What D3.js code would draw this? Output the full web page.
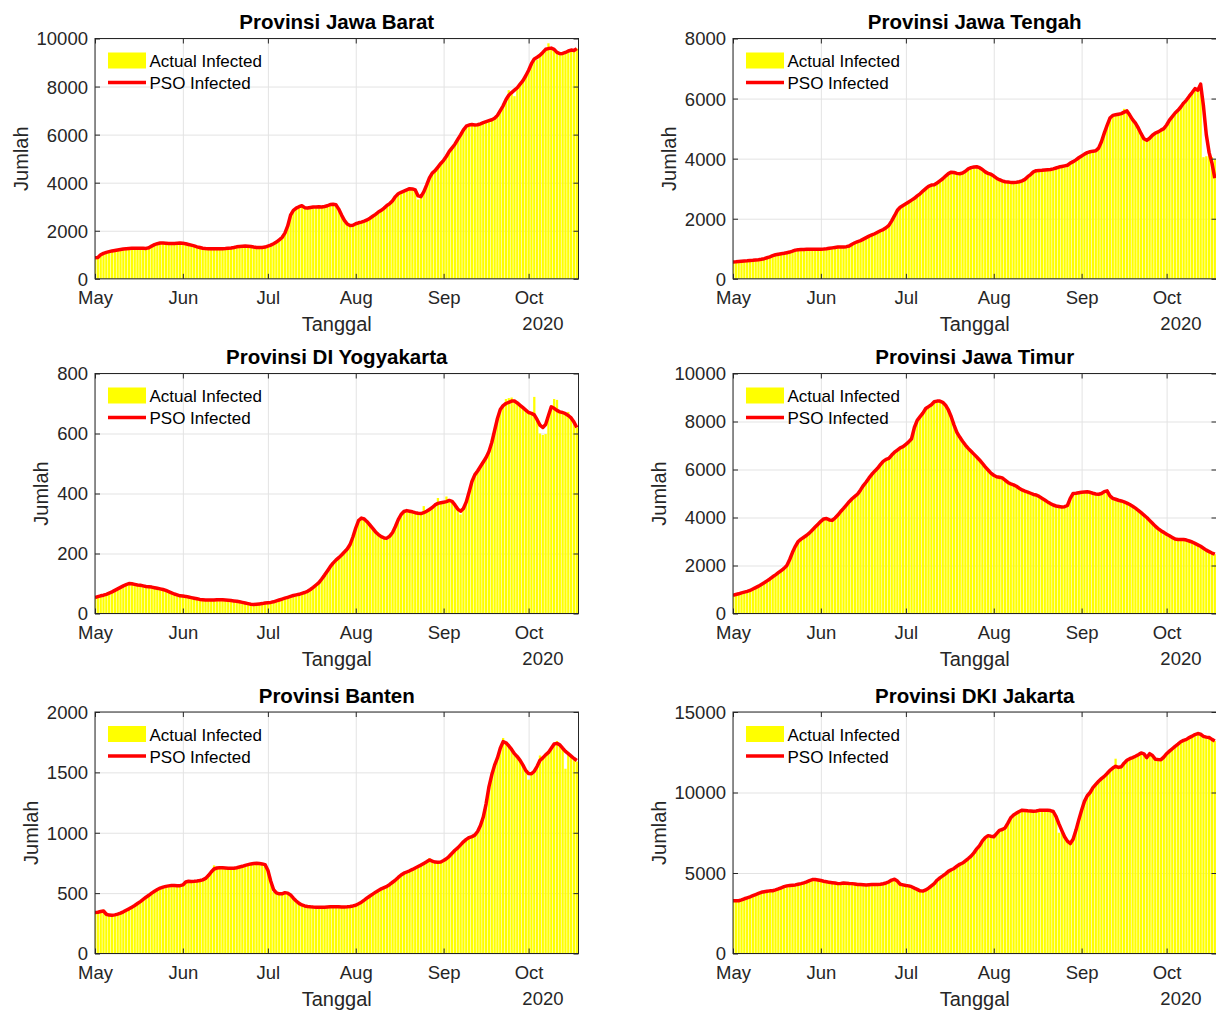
<!DOCTYPE html>
<html>
<head>
<meta charset="utf-8">
<script src="https://cdn.jsdelivr.net/npm/d3@7"></script>
<style>
  body { margin: 0; background: #fff; }
  svg text { font-family: "Liberation Sans", Arial, sans-serif; }
</style>
</head>
<body>
<script>
// data: daily values from 1 May 2020 (index 0) to 18 Oct 2020 (index 170)
const titles = ["Provinsi Jawa Barat", "Provinsi Jawa Tengah", "Provinsi DI Yogyakarta",
                "Provinsi Jawa Timur", "Provinsi Banten", "Provinsi DKI Jakarta"];
const monthLabels = ["May", "Jun", "Jul", "Aug", "Sep", "Oct"];
const yearLabel = "2020";
const seriesNames = ["Actual Infected", "PSO Infected"];
const yMaxes = [10000, 8000, 800, 10000, 2000, 15000];
const yTickSteps = [2000, 2000, 200, 2000, 500, 5000];

const psoJabar = [
  870, 890, 1000, 1060, 1100, 1130, 1160, 1180, 1200, 1220,
  1240, 1250, 1260, 1270, 1270, 1270, 1275, 1270, 1265, 1290,
  1360, 1420, 1460, 1490, 1490, 1480, 1470, 1465, 1470, 1480,
  1490, 1480, 1460, 1430, 1400, 1370, 1330, 1300, 1270, 1260,
  1255, 1250, 1250, 1250, 1250, 1255, 1260, 1270, 1280, 1300,
  1330, 1345, 1355, 1360, 1355, 1340, 1320, 1305, 1300, 1305,
  1320, 1360, 1400, 1460, 1530, 1620, 1720, 1900, 2200, 2650,
  2850, 2940, 3000, 3040, 2960, 2950, 2970, 2990, 2990, 3000,
  2990, 3010, 3040, 3090, 3100, 3080, 2900, 2650, 2430, 2280,
  2220, 2230, 2290, 2330, 2360, 2400, 2450, 2520, 2600, 2680,
  2780, 2850, 2940, 3050, 3130, 3250, 3420, 3540, 3600, 3650,
  3700, 3750, 3740, 3700, 3450, 3420, 3620, 3900, 4200, 4400,
  4500, 4650, 4800, 4930, 5100, 5300, 5450, 5600, 5800, 5990,
  6200, 6350, 6400, 6420, 6400, 6410, 6450, 6500, 6540, 6580,
  6620, 6680, 6800, 7000, 7200, 7450, 7640, 7750, 7850, 7950,
  8100, 8250, 8450, 8680, 8950, 9150, 9220, 9300, 9420, 9550,
  9580, 9600, 9550, 9420, 9370, 9380, 9420, 9480, 9520, 9500,
  9580];
const actualJabar = [
  880, 900, 1040, 1070, 1100, 1130, 1160, 1180, 1200, 1220,
  1240, 1250, 1260, 1270, 1270, 1270, 1275, 1270, 1265, 1290,
  1360, 1420, 1460, 1490, 1500, 1480, 1470, 1465, 1470, 1480,
  1490, 1480, 1460, 1430, 1400, 1370, 1330, 1300, 1270, 1260,
  1255, 1250, 1250, 1250, 1250, 1255, 1260, 1270, 1280, 1300,
  1330, 1345, 1355, 1370, 1355, 1340, 1320, 1305, 1300, 1305,
  1320, 1360, 1400, 1460, 1530, 1620, 1720, 1900, 2250, 2700,
  2850, 2940, 3000, 3040, 2960, 2950, 2970, 2990, 2990, 3000,
  2990, 3010, 3040, 3090, 3150, 3080, 2900, 2650, 2430, 2280,
  2220, 2230, 2290, 2330, 2360, 2400, 2450, 2520, 2600, 2680,
  2780, 2850, 2940, 3050, 3130, 3250, 3420, 3540, 3600, 3650,
  3700, 3750, 3740, 3700, 3300, 3400, 3620, 3900, 4200, 4400,
  4500, 4650, 4800, 4930, 5100, 5300, 5450, 5600, 5800, 5990,
  6200, 6350, 6400, 6420, 6400, 6410, 6450, 6500, 6540, 6580,
  6620, 6680, 6800, 7000, 7200, 7450, 7850, 7750, 7600, 7950,
  8100, 8250, 8450, 8680, 8950, 9150, 9120, 9300, 9420, 9550,
  9800, 9600, 9550, 9420, 9300, 9380, 9420, 9480, 9520, 9450,
  9580];

const psoJateng = [
  560, 565, 575, 585, 595, 600, 610, 615, 625, 635,
  650, 670, 700, 730, 770, 800, 820, 835, 850, 870,
  890, 920, 955, 970, 975, 975, 980, 980, 980, 980,
  980, 985, 990, 1000, 1015, 1030, 1045, 1060, 1060, 1060,
  1070, 1090, 1150, 1200, 1240, 1270, 1320, 1370, 1420, 1460,
  1500, 1550, 1600, 1640, 1700, 1780, 1930, 2100, 2280, 2380,
  2440, 2500, 2560, 2620, 2680, 2760, 2830, 2920, 3000, 3080,
  3120, 3130, 3190, 3260, 3330, 3420, 3500, 3550, 3540, 3510,
  3500, 3520, 3580, 3660, 3700, 3720, 3730, 3700, 3640, 3560,
  3510, 3480, 3420, 3350, 3300, 3260, 3230, 3220, 3210, 3210,
  3215, 3230, 3260, 3310, 3400, 3470, 3560, 3600, 3605, 3610,
  3620, 3630, 3640, 3660, 3690, 3720, 3740, 3760, 3780, 3850,
  3900, 3960, 4030, 4090, 4150, 4200, 4230, 4250, 4260, 4350,
  4560, 4850, 5110, 5350, 5440, 5460, 5480, 5500, 5550, 5590,
  5450, 5300, 5180, 5020, 4830, 4660, 4610, 4680, 4780, 4850,
  4890, 4950, 5000, 5120, 5280, 5400, 5520, 5610, 5720, 5850,
  5950, 6080, 6200, 6330, 6280, 6480, 5750, 4800, 4200, 3850,
  3350];
const actualJateng = [
  560, 565, 575, 585, 595, 600, 610, 615, 625, 635,
  650, 670, 700, 730, 770, 800, 820, 835, 850, 870,
  890, 920, 955, 970, 975, 975, 980, 980, 980, 980,
  980, 985, 990, 1000, 1015, 1030, 1045, 1060, 1060, 1060,
  1070, 1090, 1150, 1200, 1240, 1270, 1320, 1370, 1420, 1460,
  1500, 1550, 1600, 1640, 1700, 1780, 1930, 2100, 2280, 2380,
  2440, 2500, 2560, 2620, 2680, 2760, 2830, 2920, 3000, 3080,
  3120, 3130, 3190, 3260, 3330, 3420, 3500, 3550, 3540, 3510,
  3500, 3520, 3580, 3660, 3700, 3720, 3730, 3700, 3640, 3560,
  3510, 3480, 3420, 3350, 3300, 3260, 3230, 3220, 3210, 3210,
  3215, 3230, 3260, 3310, 3400, 3470, 3560, 3600, 3605, 3610,
  3620, 3630, 3640, 3660, 3690, 3720, 3740, 3760, 3780, 3850,
  3900, 3960, 4030, 4090, 4150, 4200, 4230, 4250, 4260, 4350,
  4560, 4850, 5110, 5350, 5440, 5460, 5480, 5500, 5660, 5590,
  5450, 5300, 5180, 5020, 4830, 4660, 4610, 4680, 4780, 4850,
  4890, 4950, 5000, 5120, 5280, 5400, 5520, 5610, 5720, 5850,
  5950, 6080, 6200, 6330, 6280, 6450, 4050, 4080, 4100, 4050,
  3980];

const psoJogja = [
  53, 56, 59, 61, 64, 68, 72, 77, 82, 87,
  92, 96, 100, 99, 97, 95, 94, 92, 90, 89,
  88, 86, 84, 82, 80, 77, 73, 69, 65, 62,
  59, 58, 57, 55, 53, 51, 49, 47, 46, 45,
  45, 45, 45, 46, 46, 46, 45, 44, 43, 42,
  41, 39, 37, 35, 33, 31, 30, 31, 32, 33,
  35, 36, 37, 39, 42, 45, 48, 51, 54, 57,
  60, 62, 64, 67, 70, 74, 80, 87, 95, 103,
  115, 128, 142, 156, 168, 178, 186, 195, 205, 215,
  230, 255, 285, 310, 318, 315, 306, 295, 284, 272,
  263, 256, 252, 251, 258, 270, 290, 313, 330, 340,
  343, 341, 339, 336, 334, 333, 336, 341, 347, 353,
  362, 367, 369, 371, 373, 377, 374, 362, 348, 341,
  350, 372, 405, 440, 462, 475, 490, 505, 520, 540,
  570, 610, 650, 680, 693, 700, 704, 708, 708, 702,
  694, 686, 678, 670, 667, 662, 646, 628, 620, 630,
  660, 689, 684, 677, 672, 670, 666, 660, 652, 638,
  620];
const actualJogja = [
  53, 56, 59, 61, 64, 68, 72, 77, 82, 87,
  92, 96, 100, 99, 97, 95, 94, 92, 90, 89,
  88, 86, 84, 82, 80, 77, 73, 69, 65, 62,
  59, 58, 57, 55, 53, 51, 49, 47, 46, 45,
  45, 45, 45, 46, 46, 46, 45, 44, 43, 42,
  41, 39, 37, 35, 33, 31, 30, 31, 32, 33,
  35, 36, 37, 39, 42, 45, 48, 51, 54, 57,
  60, 62, 64, 67, 70, 74, 80, 87, 95, 103,
  115, 128, 142, 156, 168, 178, 186, 195, 205, 215,
  230, 255, 285, 315, 318, 315, 306, 295, 284, 272,
  263, 256, 252, 245, 258, 270, 290, 313, 330, 340,
  343, 341, 339, 336, 334, 333, 358, 341, 347, 353,
  362, 385, 369, 371, 390, 377, 374, 362, 348, 330,
  350, 372, 405, 440, 462, 475, 490, 505, 520, 540,
  570, 610, 650, 680, 693, 715, 718, 720, 712, 702,
  694, 686, 678, 670, 667, 722, 646, 600, 595, 598,
  660, 689, 715, 712, 672, 670, 666, 672, 652, 630,
  620];

const psoJatim = [
  760, 790, 820, 860, 890, 920, 960, 1020, 1080, 1140,
  1210, 1280, 1360, 1440, 1530, 1610, 1700, 1790, 1880, 2000,
  2250, 2550, 2800, 3000, 3100, 3180, 3260, 3360, 3480, 3600,
  3720, 3840, 3940, 3960, 3900, 3880, 3980, 4100, 4250, 4380,
  4520, 4660, 4780, 4880, 4980, 5150, 5330, 5480, 5650, 5800,
  5930, 6050, 6200, 6340, 6420, 6460, 6600, 6720, 6810, 6900,
  6950, 7050, 7150, 7280, 7750, 8050, 8200, 8350, 8540, 8620,
  8700, 8820, 8850, 8850, 8800, 8680, 8480, 8200, 7850, 7550,
  7350, 7180, 7020, 6880, 6760, 6640, 6520, 6400, 6260, 6110,
  5980, 5850, 5760, 5700, 5680, 5650, 5560, 5460, 5400, 5360,
  5300, 5220, 5150, 5100, 5060, 5010, 4960, 4940, 4880, 4800,
  4730, 4650, 4580, 4520, 4480, 4460, 4440, 4450, 4500, 4800,
  5000, 5010, 5030, 5050, 5060, 5070, 5050, 5010, 4980, 4970,
  5000, 5080, 5110, 4900, 4800, 4760, 4720, 4690, 4650, 4600,
  4540, 4470, 4390, 4300, 4200, 4100, 4000, 3880, 3760, 3640,
  3540, 3450, 3380, 3300, 3240, 3170, 3100, 3080, 3080, 3080,
  3060, 3020, 2980, 2920, 2860, 2800, 2720, 2640, 2580, 2520,
  2470];
const actualJatim = [
  760, 790, 820, 860, 890, 920, 960, 1020, 1080, 1140,
  1210, 1280, 1360, 1440, 1530, 1610, 1700, 1790, 1880, 2000,
  2250, 2550, 2800, 3000, 3100, 3180, 3260, 3360, 3480, 3600,
  3720, 3840, 3940, 3960, 3900, 3880, 3980, 4100, 4250, 4380,
  4520, 4660, 4780, 4880, 4980, 5150, 5330, 5480, 5650, 5800,
  5930, 6050, 6200, 6340, 6420, 6460, 6600, 6720, 6810, 6900,
  6950, 7050, 7150, 7280, 7750, 8050, 8200, 8350, 8540, 8620,
  8700, 8820, 8850, 8850, 8800, 8680, 8480, 8200, 7850, 7550,
  7350, 7180, 7020, 6880, 6760, 6640, 6520, 6400, 6260, 6110,
  5980, 5850, 5760, 5700, 5680, 5650, 5560, 5460, 5400, 5360,
  5300, 5220, 5150, 5100, 5060, 5010, 4960, 4940, 4880, 4800,
  4730, 4650, 4580, 4520, 4480, 4460, 4440, 4450, 4500, 4800,
  5000, 5010, 5030, 5050, 5060, 5070, 5050, 5010, 4980, 4970,
  5000, 5080, 5110, 4900, 4800, 4760, 4720, 4690, 4650, 4600,
  4540, 4470, 4390, 4300, 4200, 4100, 4000, 3880, 3760, 3640,
  3540, 3450, 3380, 3300, 3240, 3170, 3100, 3080, 3080, 3080,
  3060, 3020, 2980, 2920, 2860, 2800, 2720, 2640, 2580, 2520,
  2470];

const psoBanten = [
  340, 342, 348, 352, 325, 318, 316, 320, 326, 334,
  345, 358, 370, 384, 398, 414, 430, 448, 466, 482,
  500, 516, 530, 542, 550, 556, 560, 563, 563, 562,
  562, 568, 592, 598, 597, 598, 600, 604, 610, 622,
  645, 675, 700, 708, 711, 710, 708, 706, 705, 706,
  710, 716, 722, 730, 736, 742, 746, 747, 745, 742,
  736, 690, 600, 530, 502, 494, 494, 504, 500, 485,
  458, 435, 415, 402, 394, 390, 387, 385, 384, 383,
  382, 383, 385, 387, 388, 388, 387, 386, 386, 387,
  390, 394, 400, 412, 425, 442, 460, 476, 492, 508,
  522, 536, 546, 556, 572, 590, 608, 630, 650, 665,
  675, 685, 696, 708, 720, 732, 746, 760, 775, 765,
  757, 756, 758, 770, 785, 805, 830, 855, 875, 900,
  925, 945, 960, 968, 980, 1010, 1060, 1130, 1240, 1380,
  1480, 1560, 1620, 1700, 1755, 1745, 1720, 1690, 1655, 1630,
  1600, 1560, 1515, 1490, 1488, 1510, 1550, 1600, 1620, 1645,
  1665, 1700, 1735, 1740, 1728, 1700, 1674, 1655, 1635, 1615,
  1598];
const actualBanten = [
  340, 342, 348, 362, 325, 318, 316, 320, 326, 334,
  345, 358, 370, 384, 398, 414, 430, 448, 466, 482,
  500, 516, 530, 542, 550, 556, 560, 563, 563, 562,
  562, 568, 600, 598, 597, 598, 600, 604, 610, 622,
  645, 675, 730, 708, 711, 710, 708, 706, 705, 706,
  710, 716, 722, 730, 736, 742, 746, 747, 745, 742,
  736, 690, 600, 510, 502, 494, 494, 504, 500, 485,
  458, 435, 415, 402, 394, 390, 387, 385, 384, 383,
  382, 383, 385, 387, 388, 388, 387, 386, 386, 387,
  390, 394, 400, 412, 425, 442, 460, 476, 492, 508,
  522, 536, 546, 556, 572, 590, 608, 630, 650, 665,
  675, 685, 696, 708, 720, 732, 746, 760, 790, 765,
  757, 750, 758, 770, 785, 805, 830, 855, 875, 900,
  925, 945, 960, 968, 980, 1010, 1060, 1130, 1240, 1380,
  1480, 1560, 1620, 1710, 1785, 1745, 1720, 1690, 1655, 1630,
  1600, 1560, 1515, 1440, 1488, 1510, 1550, 1640, 1620, 1645,
  1665, 1700, 1735, 1760, 1728, 1700, 1530, 1655, 1635, 1600,
  1590];

const psoJakarta = [
  3270, 3270, 3280, 3330, 3400, 3460, 3520, 3590, 3660, 3730,
  3800, 3840, 3870, 3890, 3900, 3950, 4010, 4080, 4150, 4200,
  4220, 4240, 4260, 4300, 4340, 4390, 4450, 4530, 4590, 4600,
  4570, 4530, 4490, 4460, 4420, 4400, 4380, 4340, 4350, 4380,
  4370, 4350, 4340, 4320, 4290, 4280, 4270, 4260, 4270, 4280,
  4280, 4290, 4300, 4330, 4380, 4450, 4560, 4610, 4500, 4300,
  4260, 4220, 4200, 4150, 4060, 3980, 3890, 3880, 3950, 4060,
  4200, 4340, 4550, 4700, 4820, 4950, 5100, 5200, 5280, 5420,
  5540, 5620, 5760, 5900, 6050, 6250, 6500, 6700, 7000, 7200,
  7320, 7280, 7250, 7450, 7650, 7700, 7800, 8100, 8430, 8600,
  8720, 8820, 8900, 8880, 8860, 8850, 8830, 8850, 8890, 8900,
  8900, 8900, 8880, 8820, 8500, 8050, 7650, 7250, 6980, 6830,
  7100, 7650, 8300, 8900, 9450, 9800, 10000, 10300, 10500, 10700,
  10860, 11000, 11180, 11380, 11520, 11630, 11560, 11600, 11820, 12000,
  12100, 12170, 12250, 12350, 12460, 12400, 12170, 12410, 12300, 12070,
  12050, 12040, 12200, 12410, 12570, 12720, 12870, 13000, 13150, 13240,
  13300, 13410, 13500, 13600, 13660, 13620, 13490, 13440, 13410, 13300,
  13200];
const actualJakarta = [
  3270, 3270, 3280, 3330, 3400, 3460, 3520, 3590, 3660, 3730,
  3800, 3840, 3870, 3890, 3900, 3950, 4010, 4080, 4150, 4200,
  4220, 4240, 4260, 4300, 4340, 4390, 4450, 4530, 4590, 4600,
  4570, 4530, 4490, 4460, 4420, 4400, 4380, 4340, 4350, 4380,
  4370, 4350, 4340, 4320, 4290, 4280, 4270, 4260, 4270, 4280,
  4280, 4290, 4300, 4330, 4380, 4450, 4560, 4650, 4500, 4300,
  4260, 4220, 4200, 4150, 4060, 3980, 3890, 3880, 3950, 4060,
  4200, 4340, 4550, 4700, 4820, 4950, 5100, 5200, 5280, 5420,
  5540, 5620, 5760, 5900, 6050, 6250, 6500, 6700, 7000, 7200,
  7320, 7180, 7250, 7450, 7650, 7700, 7800, 8100, 8430, 8600,
  8720, 8820, 8900, 8880, 8860, 8850, 8830, 8850, 8890, 8900,
  8900, 8900, 8880, 8820, 8500, 7500, 7650, 7250, 6980, 6830,
  7100, 7650, 8300, 8900, 9450, 9800, 10000, 10300, 10500, 10700,
  10860, 11000, 11180, 11380, 11520, 12100, 11560, 11600, 11820, 12000,
  12100, 12170, 12250, 12350, 12460, 12400, 12170, 12410, 12300, 12070,
  12050, 12040, 12200, 12410, 12570, 12720, 12870, 13000, 13150, 13240,
  13300, 13410, 13500, 13600, 13660, 13620, 13490, 13440, 13410, 13300,
  13200];

const actualSeries = [actualJabar, actualJateng, actualJogja, actualJatim, actualBanten, actualJakarta];
const psoSeries = [psoJabar, psoJateng, psoJogja, psoJatim, psoBanten, psoJakarta];

// layout
const W = 1216, H = 1012;
const colX = [95, 733];
const rowTop = [38.5, 373.5, 712];
const rowH = [240.3, 240, 241.5];
const plotW = 483.5;
const axisColor = "#262626";

const start = new Date(Date.UTC(2020, 4, 1));
const end = new Date(start.getTime() + 170.6 * 864e5);
const day = i => d3.utcDay.offset(start, i);
const monthTicks = d3.utcMonth.range(start, end);

const svg = d3.select("body").append("svg")
  .attr("width", W).attr("height", H)
  .style("display", "block");

titles.forEach((title, k) => {
  const x0 = colX[k % 2], y0 = rowTop[Math.floor(k / 2)], h = rowH[Math.floor(k / 2)];
  const x = d3.scaleUtc().domain([start, end]).range([x0, x0 + plotW]);
  const y = d3.scaleLinear().domain([0, yMaxes[k]]).range([y0 + h, y0]);
  const yTicks = d3.range(0, yMaxes[k] + 1, yTickSteps[k]);
  const g = svg.append("g");

  const clipId = "clip" + k;
  g.append("clipPath").attr("id", clipId)
    .append("rect").attr("x", x0).attr("y", y0).attr("width", plotW).attr("height", h);

  // grid
  const gridX = g.append("g").attr("transform", `translate(0,${y0 + h})`)
    .call(d3.axisBottom(x).tickValues(monthTicks).tickSize(-h).tickFormat(""));
  const gridY = g.append("g").attr("transform", `translate(${x0},0)`)
    .call(d3.axisLeft(y).tickValues(yTicks).tickSize(-plotW).tickFormat(""));
  [gridX, gridY].forEach(gg => {
    gg.select(".domain").remove();
    gg.selectAll("line").attr("stroke", "#e3e3e3");
  });

  // bars
  const bw = (x(day(1)) - x(day(0))) * 0.8;
  g.append("g").attr("clip-path", `url(#${clipId})`)
    .selectAll("rect").data(actualSeries[k]).join("rect")
    .attr("x", (d, i) => x(day(i)) - bw / 2)
    .attr("width", bw)
    .attr("y", d => y(d))
    .attr("height", d => y(0) - y(d))
    .attr("fill", "#ffff00");

  // line
  const line = d3.line().x((d, i) => x(day(i))).y(d => y(d));
  g.append("path").attr("clip-path", `url(#${clipId})`)
    .datum(psoSeries[k])
    .attr("d", line)
    .attr("fill", "none")
    .attr("stroke", "#ff0000")
    .attr("stroke-width", 3.5)
    .attr("stroke-linejoin", "round");

  // axes
  const ax = g.append("g").attr("transform", `translate(0,${y0 + h})`)
    .call(d3.axisBottom(x).tickValues(monthTicks).tickFormat((d, i) => monthLabels[i])
      .tickSizeInner(-5).tickSizeOuter(0));
  const axTop = g.append("g").attr("transform", `translate(0,${y0})`)
    .call(d3.axisTop(x).tickValues(monthTicks).tickFormat("").tickSizeInner(-5).tickSizeOuter(0));
  const ay = g.append("g").attr("transform", `translate(${x0},0)`)
    .call(d3.axisLeft(y).tickValues(yTicks).tickFormat(d3.format("d"))
      .tickSizeInner(-5).tickSizeOuter(0));
  const ayRight = g.append("g").attr("transform", `translate(${x0 + plotW},0)`)
    .call(d3.axisRight(y).tickValues(yTicks).tickFormat("").tickSizeInner(-5).tickSizeOuter(0));
  [ax, axTop, ay, ayRight].forEach(a => {
    a.select(".domain").remove();
    a.selectAll("line").attr("stroke", axisColor);
    a.attr("font-family", null).attr("font-size", 18.5);
    a.selectAll("text").attr("fill", axisColor);
  });
  ax.selectAll("text").attr("y", 25).attr("dy", null);
  ay.selectAll("text").attr("x", -7).attr("dy", "0.35em");

  g.append("rect")
    .attr("x", x0).attr("y", y0).attr("width", plotW).attr("height", h)
    .attr("fill", "none").attr("stroke", axisColor).attr("stroke-width", 1);

  // labels
  const labelW = d3.max(ay.selectAll("text").nodes(), n => n.getComputedTextLength());
  g.append("text")
    .attr("transform", `translate(${x0 - 7 - labelW - 9},${y0 + h / 2}) rotate(-90)`)
    .attr("text-anchor", "middle")
    .attr("font-size", 20).attr("fill", axisColor)
    .text("Jumlah");
  g.append("text")
    .attr("x", x0 + plotW / 2).attr("y", y0 + h + 52.5)
    .attr("text-anchor", "middle")
    .attr("font-size", 20).attr("fill", axisColor)
    .text("Tanggal");
  g.append("text")
    .attr("x", x0 + plotW - 15).attr("y", y0 + h + 51.5)
    .attr("text-anchor", "end")
    .attr("font-size", 18.5).attr("fill", axisColor)
    .text(yearLabel);
  g.append("text")
    .attr("x", x0 + plotW / 2).attr("y", y0 - 9.5)
    .attr("text-anchor", "middle")
    .attr("font-size", 20.5).attr("font-weight", "bold").attr("fill", "#000")
    .text(title);

  // legend
  const lg = g.append("g").attr("transform", `translate(${x0 + 13},${y0})`);
  lg.append("rect").attr("x", 0).attr("y", 14).attr("width", 38).attr("height", 16).attr("fill", "#ffff00");
  lg.append("line").attr("x1", 0).attr("x2", 38).attr("y1", 44).attr("y2", 44)
    .attr("stroke", "#ff0000").attr("stroke-width", 3.5);
  lg.selectAll("text.leg").data(seriesNames).join("text")
    .attr("class", "leg")
    .attr("x", 41.5).attr("y", (d, i) => 28.5 + i * 22)
    .attr("font-size", 17).attr("fill", "#000")
    .text(d => d);
});
</script>
</body>
</html>
